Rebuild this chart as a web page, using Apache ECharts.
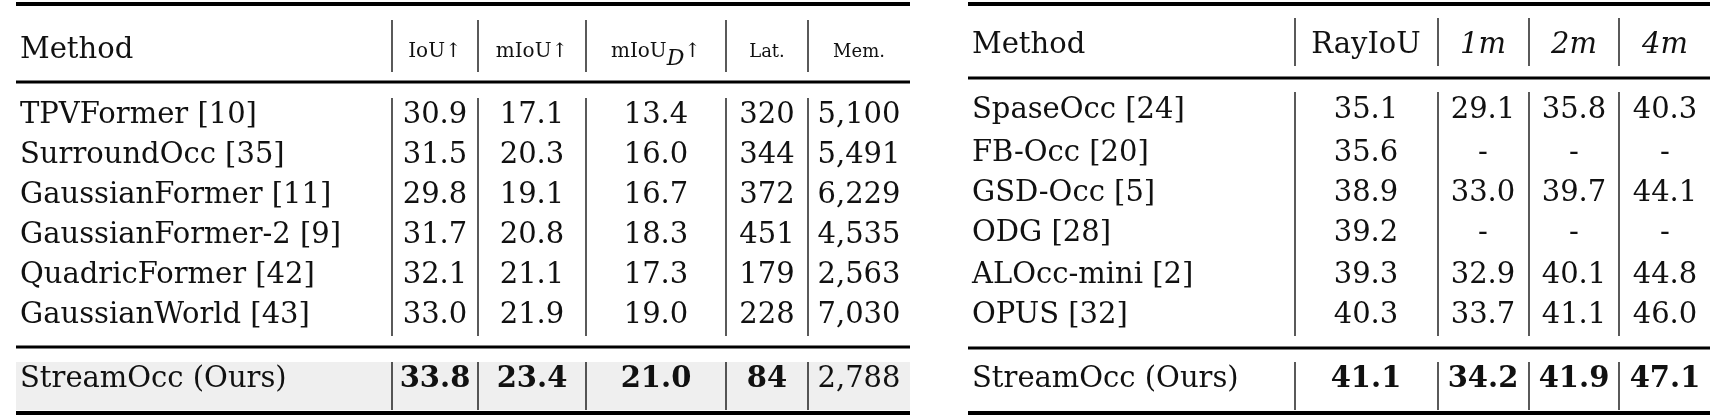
<!DOCTYPE html>
<html><head><meta charset="utf-8">
<script src="https://cdn.jsdelivr.net/npm/echarts@6/dist/echarts.min.js"></script>
<style>html,body{margin:0;background:#fff}#c{width:1725px;height:420px}</style>
</head><body><div id="c"></div>
<script>
const leftHeaders = ['Method','IoU↑','mIoU↑','mIoU_D↑','Lat.','Mem.'];
const leftMethods = ['TPVFormer [10]','SurroundOcc [35]','GaussianFormer [11]','GaussianFormer-2 [9]','QuadricFormer [42]','GaussianWorld [43]'];
const leftIoU = ['30.9','31.5','29.8','31.7','32.1','33.0'];
const leftMIoU = ['17.1','20.3','19.1','20.8','21.1','21.9'];
const leftMIoUD = ['13.4','16.0','16.7','18.3','17.3','19.0'];
const leftLat = ['320','344','372','451','179','228'];
const leftMem = ['5,100','5,491','6,229','4,535','2,563','7,030'];
const leftOurs = ['StreamOcc (Ours)','33.8','23.4','21.0','84','2,788'];

const rightHeaders = ['Method','RayIoU','1m','2m','4m'];
const rightMethods = ['SpaseOcc [24]','FB-Occ [20]','GSD-Occ [5]','ODG [28]','ALOcc-mini [2]','OPUS [32]'];
const rightRay = ['35.1','35.6','38.9','39.2','39.3','40.3'];
const right1m = ['29.1','-','33.0','-','32.9','33.7'];
const right2m = ['35.8','-','39.7','-','40.1','41.1'];
const right4m = ['40.3','-','44.1','-','44.8','46.0'];
const rightOurs = ['StreamOcc (Ours)','41.1','34.2','41.9','47.1'];

const F = '"DejaVu Serif","Liberation Serif",serif';
const els = [];
function txt(x,y,s,opt){opt=opt||{};els.push({type:'text',x:x,y:y,style:{text:s,font:(opt.b?'bold ':'')+(opt.i?'italic ':'')+(opt.size||29)+'px '+F,fill:'#111',align:opt.align||'center',verticalAlign:'middle'}});}
function hl(x1,x2,y,w){els.push({type:'rect',shape:{x:x1,y:y-w/2,width:x2-x1,height:w},style:{fill:'#000'}});}
function vl(x,y1,y2){els.push({type:'line',shape:{x1:x,y1:y1,x2:x,y2:y2},style:{stroke:'#000',lineWidth:1.3}});}

const L0=16,L1=910, lsep=[392,478,586,726,808];
const lcx=[null,435,532,656,767,859];
const lrows=[115,155,195,235,275,315];
els.push({type:'rect',shape:{x:L0,y:362,width:L1-L0,height:48},style:{fill:'#efefef'}});
hl(L0,L1,4,4); hl(L0,L1,82,3); hl(L0,L1,347,3); hl(L0,L1,413,4);
lsep.forEach(x=>{vl(x,20,72);vl(x,98,336);vl(x,362,410);});
txt(20,50,leftHeaders[0],{align:'left'});
txt(lcx[1],52,leftHeaders[1],{size:20});
txt(lcx[2],52,leftHeaders[2],{size:20});
els.push({type:'text',x:lcx[3],y:52,style:{text:'{a|mIoU}{d|D}{a|↑}',align:'center',verticalAlign:'middle',rich:{a:{font:'20px '+F,fill:'#111'},d:{font:'italic 22px '+F,fill:'#111',padding:[14,0,0,0]}}}});
txt(lcx[4],52,leftHeaders[4],{size:18});
txt(lcx[5],52,leftHeaders[5],{size:18});
const lcols=[leftIoU,leftMIoU,leftMIoUD,leftLat,leftMem];
leftMethods.forEach((m,i)=>{txt(20,lrows[i],m,{align:'left'});lcols.forEach((c,j)=>txt(lcx[j+1],lrows[i],c[i]));});
txt(20,379,leftOurs[0],{align:'left'});
for(let j=1;j<6;j++) txt(lcx[j],379,leftOurs[j],{b:j<5});

const R0=968,R1=1710, rsep=[1295,1438,1529,1619];
const rcx=[null,1366,1483,1574,1665];
const rrows=[110,153,193,233,275,315];
hl(R0,R1,4,4); hl(R0,R1,78,3); hl(R0,R1,348,3); hl(R0,R1,413,4);
rsep.forEach(x=>{vl(x,18,66);vl(x,92,336);vl(x,362,410);});
txt(972,45,rightHeaders[0],{align:'left'});
txt(rcx[1],45,rightHeaders[1]);
for(let j=2;j<5;j++) txt(rcx[j],45,rightHeaders[j],{i:true});
const rcols=[rightRay,right1m,right2m,right4m];
rightMethods.forEach((m,i)=>{txt(972,rrows[i],m,{align:'left'});rcols.forEach((c,j)=>txt(rcx[j+1],rrows[i],c[i]));});
txt(972,379,rightOurs[0],{align:'left'});
for(let j=1;j<5;j++) txt(rcx[j],379,rightOurs[j],{b:true});

const chart=echarts.init(document.getElementById('c'));
chart.setOption({animation:false,graphic:{elements:els}});
</script></body></html>
